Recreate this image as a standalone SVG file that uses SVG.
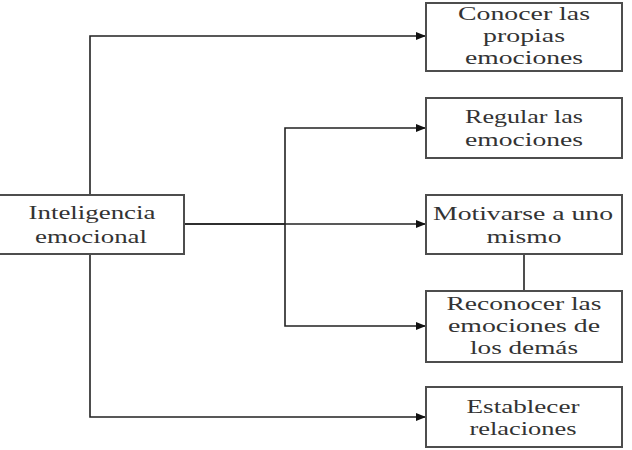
<svg xmlns="http://www.w3.org/2000/svg" width="632" height="450" viewBox="0 0 632 450">
<style>
.box{fill:#fff;stroke:#4d4d4d;stroke-width:2}
.t{font-family:"Liberation Serif",serif;font-size:19px;fill:#333;text-anchor:middle}
.c{fill:none;stroke:#222;stroke-width:1.6}
</style>
<defs>
<marker id="ah" viewBox="0 0 10 8" refX="10" refY="4" markerWidth="10" markerHeight="8" markerUnits="userSpaceOnUse" orient="auto">
<path d="M0,0 L10,4 L0,8 z" fill="#111"/>
</marker>
</defs>
<g id="connectors">
<path class="c" d="M90,195 V36 H426" marker-end="url(#ah)"/>
<path class="c" d="M90,254 V417 H426" marker-end="url(#ah)"/>
<path class="c" d="M184,224 H426" marker-end="url(#ah)"/>
<path class="c" d="M184,224 H285" stroke-width="2.6"/>
<path class="c" d="M285,224 V128 H426" marker-end="url(#ah)"/>
<path class="c" d="M285,224 V326 H426" marker-end="url(#ah)"/>
<path class="c" d="M524,254 V291"/>
</g>
<g id="n0">
<rect class="box" x="-1" y="195" width="185" height="59"/>
<text class="t" x="92" y="219" textLength="127" lengthAdjust="spacingAndGlyphs">Inteligencia</text>
<text class="t" x="91" y="243" textLength="112" lengthAdjust="spacingAndGlyphs">emocional</text>
</g>
<g id="n1">
<rect class="box" x="426" y="3" width="196" height="68"/>
<text class="t" x="524" y="20" textLength="132" lengthAdjust="spacingAndGlyphs">Conocer las</text>
<text class="t" x="524" y="42" textLength="82" lengthAdjust="spacingAndGlyphs">propias</text>
<text class="t" x="524" y="64" textLength="118" lengthAdjust="spacingAndGlyphs">emociones</text>
</g>
<g id="n2">
<rect class="box" x="426" y="98" width="196" height="60"/>
<text class="t" x="524" y="123" textLength="118" lengthAdjust="spacingAndGlyphs">Regular las</text>
<text class="t" x="524" y="146" textLength="118" lengthAdjust="spacingAndGlyphs">emociones</text>
</g>
<g id="n3">
<rect class="box" x="426" y="195" width="196" height="59"/>
<text class="t" x="523" y="220" textLength="180" lengthAdjust="spacingAndGlyphs">Motivarse a uno</text>
<text class="t" x="524" y="243" textLength="75" lengthAdjust="spacingAndGlyphs">mismo</text>
</g>
<g id="n4">
<rect class="box" x="426" y="291" width="196" height="71"/>
<text class="t" x="524" y="310" textLength="155" lengthAdjust="spacingAndGlyphs">Reconocer las</text>
<text class="t" x="524" y="332" textLength="152" lengthAdjust="spacingAndGlyphs">emociones de</text>
<text class="t" x="524" y="354" textLength="108" lengthAdjust="spacingAndGlyphs">los demás</text>
</g>
<g id="n5">
<rect class="box" x="426" y="387" width="196" height="60"/>
<text class="t" x="523" y="413" textLength="113" lengthAdjust="spacingAndGlyphs">Establecer</text>
<text class="t" x="523" y="435" textLength="107" lengthAdjust="spacingAndGlyphs">relaciones</text>
</g>
</svg>
